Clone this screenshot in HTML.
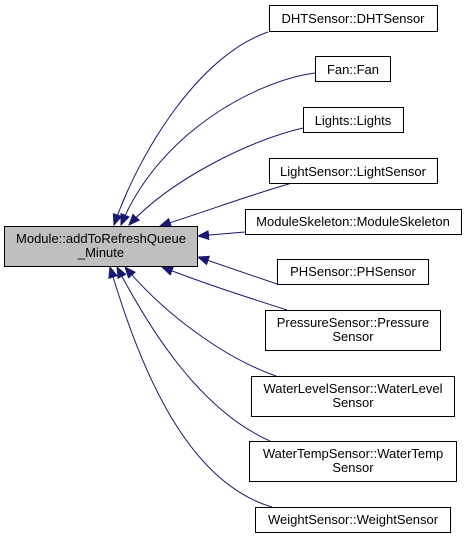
<!DOCTYPE html>
<html><head><style>
body{margin:0;background:#fff;}
svg{display:block;font-family:"Liberation Sans",sans-serif;font-size:13px;}
</style></head><body>
<svg width="467" height="539" viewBox="0 0 467 539">
<defs>
<marker id="a" markerWidth="12" markerHeight="10" refX="11" refY="5" orient="auto" markerUnits="userSpaceOnUse">
<path d="M0,0.5 L11,5 L0,9.5 Z" fill="#191970" stroke="#191970"/>
</marker>
</defs>
<g fill="none" stroke="#191970" stroke-width="1" marker-end="url(#a)">
<path d="M268,32 C200,55 140,150 114,225"/>
<path d="M315,73 C260,80 160,130 121,225"/>
<path d="M303,128 C250,140 170,180 129,225"/>
<path d="M292,183 C250,195 210,210 160,226"/>
<path d="M245,232 L198,236"/>
<path d="M277,284 L198,257"/>
<path d="M287,310 C240,295 200,282 162,267"/>
<path d="M276,376 C230,360 170,320 125,267"/>
<path d="M270,441 C200,410 150,330 117,267"/>
<path d="M272,507 C180,480 135,350 110,267"/>
</g>
<g stroke="#000" stroke-width="1" fill="#fff">
<rect x="4.5" y="226.5" width="193" height="40" fill="#bfbfbf"/>
<rect x="269.5" y="5.5" width="168" height="26"/>
<rect x="315.5" y="56.5" width="75" height="25"/>
<rect x="303.5" y="107.5" width="100" height="25"/>
<rect x="269.5" y="158.5" width="168" height="25"/>
<rect x="245.5" y="209.5" width="216" height="25"/>
<rect x="277.5" y="259.5" width="151" height="25"/>
<rect x="265.5" y="310.5" width="175" height="40"/>
<rect x="251.5" y="376.5" width="203" height="40"/>
<rect x="249.5" y="441.5" width="207" height="40"/>
<rect x="255.5" y="507.5" width="195" height="25"/>
</g>
<g fill="#000" text-anchor="middle">
<text x="101" y="243" textLength="170" lengthAdjust="spacingAndGlyphs">Module::addToRefreshQueue</text>
<text x="101" y="257">_Minute</text>
<text x="353" y="23">DHTSensor::DHTSensor</text>
<text x="353" y="74">Fan::Fan</text>
<text x="353" y="125">Lights::Lights</text>
<text x="353" y="176">LightSensor::LightSensor</text>
<text x="353" y="226">ModuleSkeleton::ModuleSkeleton</text>
<text x="353" y="276">PHSensor::PHSensor</text>
<text x="353" y="327">PressureSensor::Pressure</text>
<text x="353" y="341">Sensor</text>
<text x="353" y="393">WaterLevelSensor::WaterLevel</text>
<text x="353" y="407">Sensor</text>
<text x="353" y="458">WaterTempSensor::WaterTemp</text>
<text x="353" y="472">Sensor</text>
<text x="353" y="524">WeightSensor::WeightSensor</text>
</g>
</svg>
</body></html>
